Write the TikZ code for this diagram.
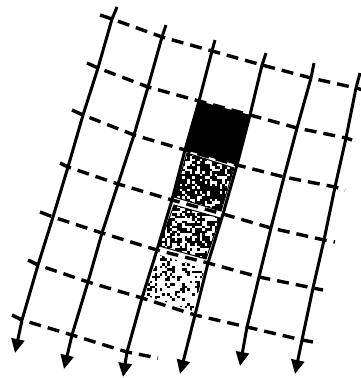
\documentclass[tikz,border=0pt]{standalone}
\usetikzlibrary{arrows.meta}
\begin{document}
\begin{tikzpicture}[x=1pt,y=-1pt,
  solidline/.style={line width=3pt,-{Triangle[length=14pt,width=13pt]}},
  dashline/.style={line width=3.4pt,dash pattern=on 12pt off 7pt,line join=round},
  cellline/.style={line width=1pt}]
\useasboundingbox (0,0) rectangle (361,378);
\pgfmathsetseed{11}
% tops of solid lines
\coordinate (t1) at (117,7);  \coordinate (t2) at (166,25); \coordinate (t3) at (215,40);
\coordinate (t4) at (266,53); \coordinate (t5) at (314,63); \coordinate (t6) at (360,73);
% arrow tips
\coordinate (s1) at (15,353);  \coordinate (s2) at (64,369);  \coordinate (s3) at (123,377);
\coordinate (s4) at (180,374); \coordinate (s5) at (240,366); \coordinate (s6) at (295,374);
% crossings
\coordinate (a1) at (112,19); \coordinate (a2) at (162,37); \coordinate (a3) at (212,51);
\coordinate (a4) at (262,65); \coordinate (a5) at (311,78); \coordinate (a6) at (356,88);
\coordinate (b1) at (98,68);  \coordinate (b2) at (148,87); \coordinate (b3) at (199,101);
\coordinate (b4) at (250,115);\coordinate (b5) at (297,128);\coordinate (b6) at (346,138);
\coordinate (c1) at (83,115); \coordinate (c2) at (134,135);\coordinate (c3) at (185,150);
\coordinate (c4) at (237,165);\coordinate (c5) at (284,177);\coordinate (c6) at (335,187);
\coordinate (d1) at (68,167); \coordinate (d2) at (118,184);\coordinate (d3) at (172,200);
\coordinate (d4) at (223,214);\coordinate (d5) at (271,228);\coordinate (d6) at (324,240);
\coordinate (e1) at (53,217); \coordinate (e2) at (102,233);\coordinate (e3) at (157,250);
\coordinate (e4) at (208,263);\coordinate (e5) at (259,277);\coordinate (e6) at (313,288);
\coordinate (f1) at (38,265); \coordinate (f2) at (88,282); \coordinate (f3) at (142,298);
\coordinate (f4) at (195,315);\coordinate (f5) at (247,327);\coordinate (f6) at (302,340);
\coordinate (g1) at (22,320); \coordinate (g2) at (72,335); \coordinate (g3) at (127,352);
% dashed ends
\coordinate (h1s) at (100,15); \coordinate (h1e) at (363,90);
\coordinate (h2s) at (87,63);  \coordinate (h2e) at (352,140);
\coordinate (h3s) at (72,110); \coordinate (h3e) at (345,190);
\coordinate (h4s) at (60,163); \coordinate (h4e) at (335,242);
\coordinate (h5s) at (40,212); \coordinate (h5e) at (323,290);
\coordinate (h6s) at (28,260); \coordinate (h6e) at (313,342);
\coordinate (h7s) at (12,315); \coordinate (h7e) at (158,358);

% black cell
\fill (b3) -- (b4) -- (c4) -- (c3) -- cycle;

% textured cells
\begin{scope}
\clip (187,153) -- (234,168) -- (221,211) -- (174,197) -- cycle;
\foreach \xx in {172,174.5,...,234}{\foreach \yy in {151,153.5,...,211}{%
  \pgfmathparse{rnd}\ifdim\pgfmathresult pt<0.66pt\relax\fill (\xx,\yy) rectangle +(2.5,2.5);\fi}}
\end{scope}
\draw[cellline] (187,153) -- (234,168) -- (221,211) -- (174,197) -- cycle;
\begin{scope}
\clip (174,205) -- (220,218) -- (206,259) -- (159,246) -- cycle;
\foreach \xx in {157,159.5,...,220}{\foreach \yy in {203,205.5,...,259}{%
  \pgfmathparse{rnd}\ifdim\pgfmathresult pt<0.5pt\relax\fill (\xx,\yy) rectangle +(2.5,2.5);\fi}}
\end{scope}
\draw[cellline] (174,205) -- (220,218) -- (206,259) -- (159,246) -- cycle;
\begin{scope}
\clip (159,255) -- (205,268) -- (193,311) -- (144,295) -- cycle;
\foreach \xx in {142,144.5,...,205}{\foreach \yy in {253,255.5,...,311}{%
  \pgfmathparse{rnd}\ifdim\pgfmathresult pt<0.32pt\relax\fill (\xx,\yy) rectangle +(2.5,2.5);\fi}}
\end{scope}

% solid lines
\draw[solidline] (t1) -- (a1) -- (b1) -- (c1) -- (d1) -- (e1) -- (f1) -- (g1) -- (s1);
\draw[solidline] (t2) -- (a2) -- (b2) -- (c2) -- (d2) -- (e2) -- (f2) -- (g2) -- (s2);
\draw[solidline] (t3) -- (a3) -- (b3) -- (c3) -- (d3) -- (e3) -- (f3) -- (g3) -- (s3);
\draw[solidline] (t4) -- (a4) -- (b4) -- (c4) -- (d4) -- (e4) -- (f4) -- (s4);
\draw[solidline] (t5) -- (a5) -- (b5) -- (c5) -- (d5) -- (e5) -- (f5) -- (s5);
\draw[solidline] (t6) -- (a6) -- (b6) -- (c6) -- (d6) -- (e6) -- (f6) -- (s6);

% dashed lines
\draw[dashline] (h1s) -- (a1) -- (a2) -- (a3) -- (a4) -- (a5) -- (a6) -- (h1e);
\draw[dashline] (h2s) -- (b1) -- (b2) -- (b3) -- (b4) -- (b5) -- (b6) -- (h2e);
\draw[dashline] (h3s) -- (c1) -- (c2) -- (c3) -- (c4) -- (c5) -- (c6) -- (h3e);
\draw[dashline] (h4s) -- (d1) -- (d2) -- (d3) -- (d4) -- (d5) -- (d6) -- (h4e);
\draw[dashline] (h5s) -- (e1) -- (e2) -- (e3) -- (e4) -- (e5) -- (e6) -- (h5e);
\draw[dashline] (h6s) -- (f1) -- (f2) -- (f3) -- (f4) -- (f5) -- (f6) -- (h6e);
\draw[dashline] (h7s) -- (g1) -- (g2) -- (g3) -- (h7e);
\end{tikzpicture}
\end{document}
